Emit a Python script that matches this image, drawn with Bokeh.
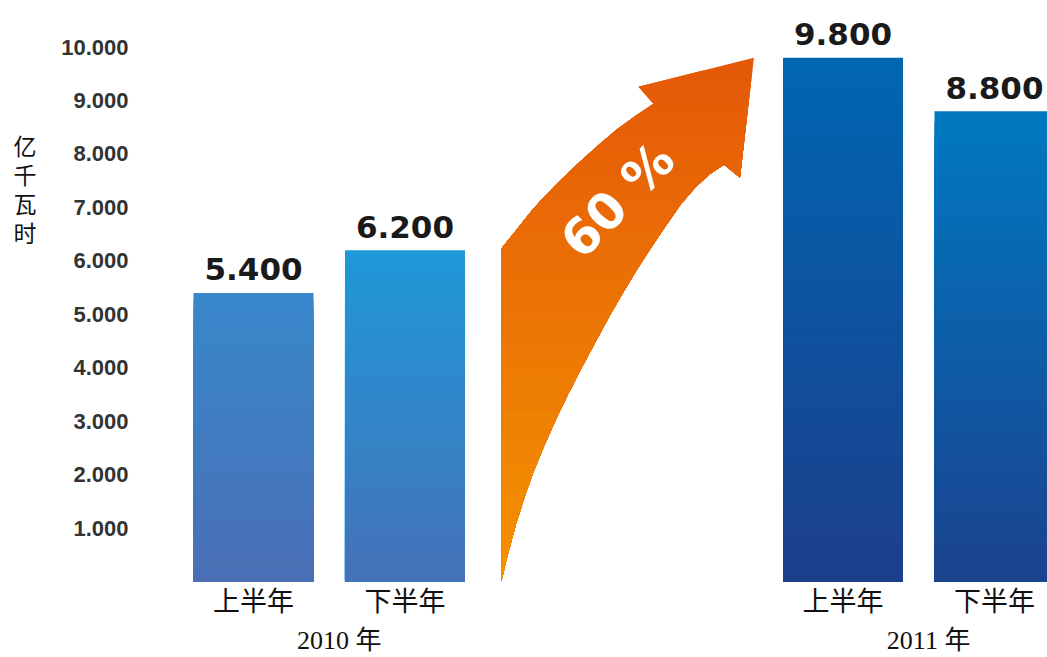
from bokeh.plotting import figure
from bokeh.models import Range1d, FixedTicker, LinearAxis
from bokeh.core.properties import value
from bokeh.embed import file_html
from bokeh.resources import INLINE

# ---------------- data ----------------
years = ["2010 年", "2011 年"]
halves = ["上半年", "下半年"]
values = [5400, 6200, 9800, 8800]
y_ticks = [1000, 2000, 3000, 4000, 5000, 6000, 7000, 8000, 9000, 10000]
y_tick_labels = ["1.000", "2.000", "3.000", "4.000", "5.000",
                 "6.000", "7.000", "8.000", "9.000", "10.000"]
unit_chars = ["亿", "千", "瓦", "时"]
growth_text = "60 %"

value_labels = [f"{v:,}".replace(",", ".") for v in values]

# ---------------- layout / style ----------------
W, H = 1047, 657
FRAME_LEFT = 185
FRAME_BOTTOM_BORDER = 76
U = 90.0                        # pixels per x unit (one bar slot)
WITHIN = 1.683                  # bar spacing inside a year
BETWEEN = 4.867                 # spacing from last bar of a year to first of next
BAR_W = 1.333
X_START = -0.7556
X_END = X_START + (W - FRAME_LEFT) / U
PX_PER_UNIT = 0.053444          # vertical pixels per value unit
FRAME_H = H - FRAME_BOTTOM_BORDER
Y_END = FRAME_H / PX_PER_UNIT
LABEL_GAP_PX = 23.5
GROUP_LABEL_SHIFT = 0.11
UNIT_TOP_PX, UNIT_STEP_PX = 144, 29

bar_top_colors = ["#3888cb", "#1f98d8", "#0067b3", "#0079c1"]
bar_bottom_colors = ["#4a6fb5", "#4572b8", "#1c3e8a", "#1b428d"]
arrow_top_color = "#e45808"
arrow_bottom_color = "#f39200"
SERIF = "Liberation Serif, Noto Sans CJK SC"

# arrow outline template (shape only, normalised below)
ARROW_TX = [499, 499, 512, 527, 543, 560, 578, 597, 616, 634, 652,
            637, 753, 739, 723,
            708, 694, 680, 666, 651, 636, 622, 608, 594, 580, 566, 553,
            541, 530, 522, 514, 506]
ARROW_TY = [580, 247, 231, 212, 194, 177, 160, 143, 127, 114, 102,
            85, 56, 176, 163,
            173, 186, 202, 222, 244, 267, 290, 314, 340, 366, 393, 420,
            447, 474, 497, 522, 552]

# x positions of the bars (two halves per year)
positions = []
for gi in range(len(years)):
    for hi in range(len(halves)):
        positions.append(gi * (WITHIN + BETWEEN) + hi * WITHIN)
sub_labels = [h for _ in years for h in halves]
group_pos = [sum(positions[2 * g:2 * g + 2]) / 2 + GROUP_LABEL_SHIFT
             for g in range(len(years))]
unit_pos = [(FRAME_H - UNIT_TOP_PX - UNIT_STEP_PX * i) / PX_PER_UNIT
            for i in range(len(unit_chars))]


def hex2rgb(h):
    h = h.lstrip("#")
    return tuple(int(h[i:i + 2], 16) for i in (0, 2, 4))


def mix(c0, c1, t):
    a, b = hex2rgb(c0), hex2rgb(c1)
    return "#%02x%02x%02x" % tuple(round(a[i] + (b[i] - a[i]) * t) for i in range(3))


p = figure(width=W, height=H,
           x_range=Range1d(X_START, X_END),
           y_range=Range1d(0, Y_END),
           output_backend="svg", toolbar_location=None,
           min_border_left=FRAME_LEFT, min_border_right=0,
           min_border_top=0, min_border_bottom=FRAME_BOTTOM_BORDER)
p.outline_line_color = None
p.xgrid.grid_line_color = None
p.ygrid.grid_line_color = None

# ---------------- bars with vertical gradient ----------------
N = 40
bx, btop, bcol = [], [], []
for x, v, ct, cb in zip(positions, values, bar_top_colors, bar_bottom_colors):
    for k in range(N, 0, -1):
        bx.append(x)
        btop.append(v * k / N)
        bcol.append(mix(cb, ct, (k - 0.5) / N))
p.vbar(x=bx, top=btop, bottom=0, width=BAR_W, fill_color=bcol, line_color=None)

# value labels
label_y = [v + LABEL_GAP_PX / PX_PER_UNIT for v in values]
p.text(x=positions, y=label_y, text=value_labels, text_align="center",
       text_baseline="alphabetic",
       text_font=value("DejaVu Sans"), text_font_style="bold",
       text_font_size="31px", text_color="#1a1a1a")

# ---------------- growth arrow ----------------
tx0, tx1 = min(ARROW_TX), max(ARROW_TX)
ty0, ty1 = min(ARROW_TY), max(ARROW_TY)
arrow_u = [(x - tx0) / (tx1 - tx0) for x in ARROW_TX]
arrow_v = [(ty1 - y) / (ty1 - ty0) for y in ARROW_TY]
ax0, ax1 = positions[1] + 1.07, positions[2] - 0.99
ay0, ay1 = 0.0, max(values)


def clip_below(us, vs, c):
    ou, ov = [], []
    n = len(us)
    for i in range(n):
        u1, v1 = us[i], vs[i]
        u2, v2 = us[(i + 1) % n], vs[(i + 1) % n]
        in1, in2 = v1 <= c, v2 <= c
        if in1:
            ou.append(u1); ov.append(v1)
        if in1 != in2:
            t = (c - v1) / (v2 - v1)
            ou.append(u1 + t * (u2 - u1)); ov.append(c)
    return ou, ov


M = 40
pxs, pys, pcs = [], [], []
for k in range(M, 0, -1):
    c = k / M if k < M else 1.01
    cu, cv = clip_below(arrow_u, arrow_v, c)
    if len(cu) < 3:
        continue
    pxs.append([ax0 + u * (ax1 - ax0) for u in cu])
    pys.append([ay0 + v * (ay1 - ay0) for v in cv])
    pcs.append(mix(arrow_bottom_color, arrow_top_color, (k - 0.5) / M))
p.patches(xs=pxs, ys=pys, fill_color=pcs, line_color=None)

p.text(x=[ax0 + 0.461 * (ax1 - ax0)], y=[ay0 + 0.728 * (ay1 - ay0)],
       text=[growth_text], angle=0.8, text_align="center",
       text_baseline="middle", text_font=value("DejaVu Sans"),
       text_font_style="bold", text_font_size="50px", text_color="white")

# ---------------- axes ----------------
def strip_axis(ax):
    ax.axis_line_color = None
    ax.major_tick_line_color = None
    ax.minor_tick_line_color = None
    ax.major_tick_out = 0
    ax.major_tick_in = 0


ya = p.yaxis[0]
ya.ticker = FixedTicker(ticks=y_ticks)
ya.major_label_overrides = dict(zip(y_ticks, y_tick_labels))
strip_axis(ya)
ya.major_label_standoff = FRAME_LEFT - 128
ya.major_label_text_font = "Liberation Sans"
ya.major_label_text_font_style = "bold"
ya.major_label_text_font_size = "22px"
ya.major_label_text_color = "#333333"

# unit title, stacked vertically on its own left axis
ua = LinearAxis(ticker=FixedTicker(ticks=unit_pos),
                major_label_overrides=dict(zip(unit_pos, unit_chars)))
strip_axis(ua)
ua.major_label_standoff = 22
ua.major_label_text_font = "Noto Sans CJK SC"
ua.major_label_text_font_size = "23px"
ua.major_label_text_color = "#111111"
p.add_layout(ua, "left")


def style_x_axis(ax, font_size, standoff):
    strip_axis(ax)
    ax.major_label_standoff = standoff
    ax.major_label_text_font = SERIF
    ax.major_label_text_font_size = font_size
    ax.major_label_text_color = "#111111"


xa = p.xaxis[0]
xa.ticker = FixedTicker(ticks=positions)
xa.major_label_overrides = dict(zip(positions, sub_labels))
style_x_axis(xa, "27px", 5)

ga = LinearAxis(ticker=FixedTicker(ticks=group_pos),
                major_label_overrides=dict(zip(group_pos, years)))
style_x_axis(ga, "26px", 6)
p.add_layout(ga, "below")

open("out.html", "w").write(file_html(p, INLINE))
